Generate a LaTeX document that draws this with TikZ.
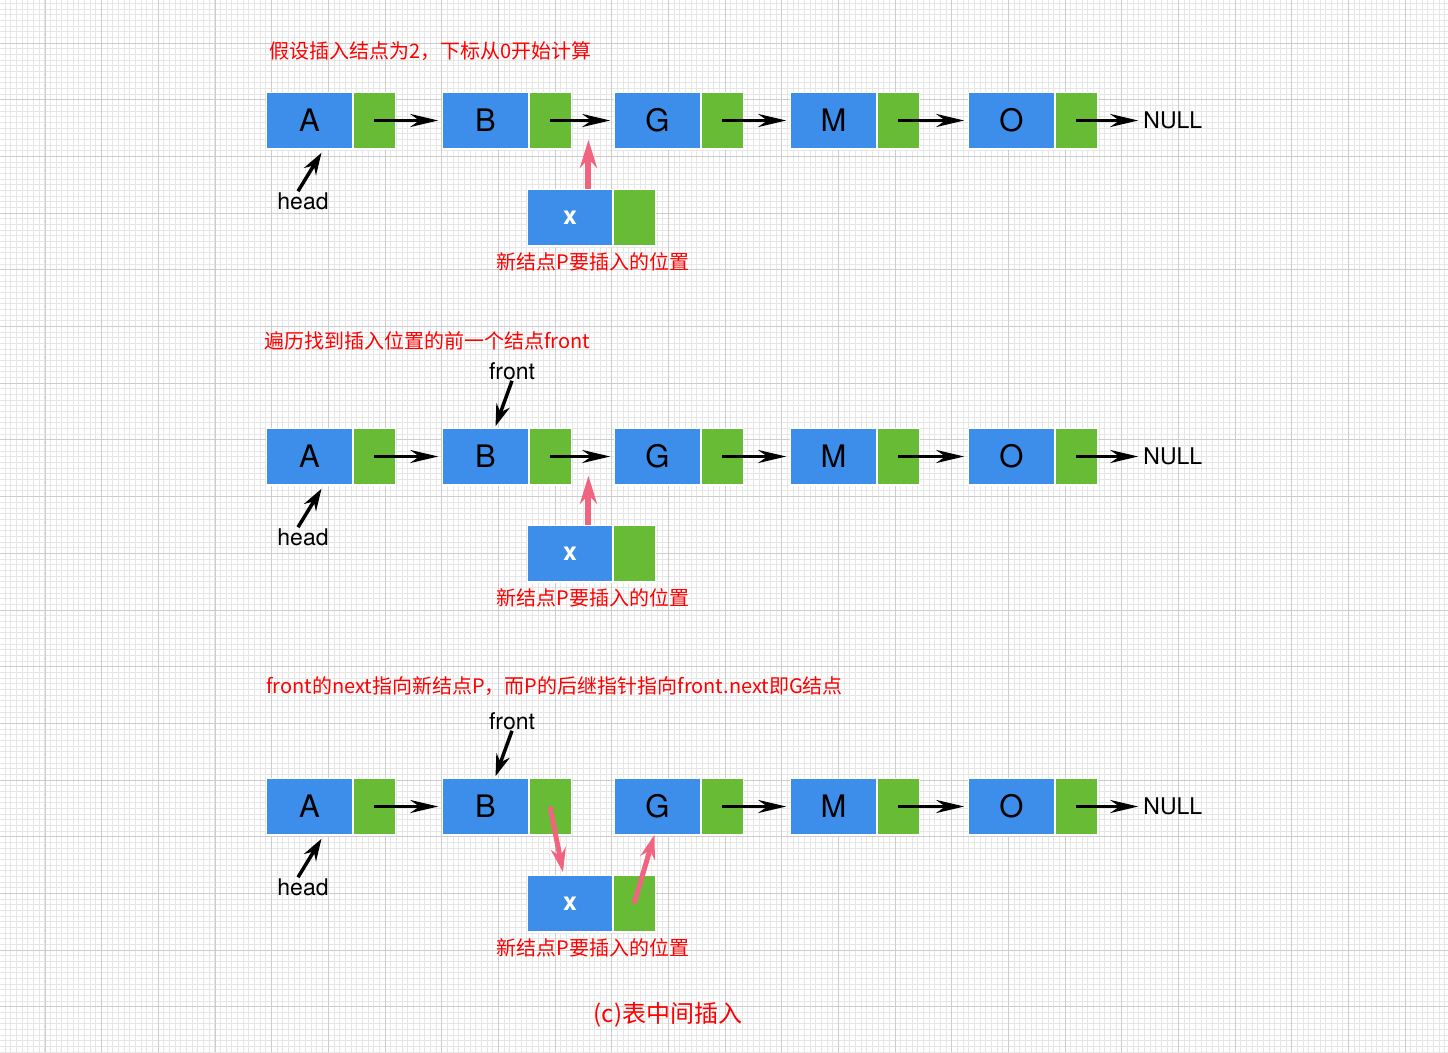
\documentclass[tikz,border=0pt]{standalone}
\usepackage{fontspec}
\setmainfont{TeX Gyre Heros}
\newfontfamily\cjk{Noto Sans CJK SC}
\usetikzlibrary{positioning}
\usetikzlibrary{arrows.meta}
\usetikzlibrary{calc}
\definecolor{cellblue}{HTML}{3C8EEA}
\definecolor{cellgreen}{HTML}{68BB34}
\definecolor{linkpink}{HTML}{F0647F}
\definecolor{gridminor}{HTML}{E6E6E6}
\definecolor{gridmajor}{HTML}{CCCCCC}
\tikzset{datacell/.style={fill=cellblue, draw=white, line width=1.5pt, outer sep=0pt, inner sep=0pt, minimum width=86.5pt, minimum height=56.5pt, font=\fontsize{31}{31}\selectfont}}
\tikzset{ptrcell/.style={datacell, fill=cellgreen, minimum width=42.5pt}}
\tikzset{newcell/.style={datacell, minimum width=85.5pt, text=white, font=\fontsize{25}{25}\selectfont\bfseries}}
\tikzset{nextarrow/.style={-{Stealth[length=28pt,width=13pt]}, line width=3.5pt, shorten >=4pt}}
\tikzset{refarrow/.style={-{Stealth[length=22pt,width=14pt]}, line width=3.5pt}}
\tikzset{insarrow/.style={-{Stealth[length=28pt,width=17pt]}, line width=6pt, draw=linkpink}}
\tikzset{relink/.style={-{Stealth[length=24pt,width=15pt]}, line width=5pt, draw=linkpink}}
\tikzset{note/.style={text=red, font=\cjk\fontsize{20}{20}\selectfont, inner sep=0pt}}
\tikzset{tag/.style={font=\fontsize{23}{23}\selectfont, inner sep=1pt}}

\begin{document}
\begin{tikzpicture}[x=1pt, y=-1pt]
        \useasboundingbox (0,0) rectangle (1448,1052);
        \fill[white] (0,0) rectangle (1448,1052);
        \foreach \i in {0,...,254} \draw[gridminor, line width=1pt] (5.31+5.667*\i,0) -- (5.31+5.667*\i,1052);
        \foreach \j in {0,...,185} \draw[gridminor, line width=1pt] (0,3.63+5.667*\j) -- (1448,3.63+5.667*\j);
        \foreach \i in {0,...,24} \draw[gridmajor, line width=1pt] (45+56.67*\i,0) -- (45+56.67*\i,1052);
        \foreach \j in {0,...,17} \draw[gridmajor, line width=1pt] (0,43.3+56.67*\j) -- (1448,43.3+56.67*\j);

        \node[note, anchor=west] (step1) at (269,51) {假设插入结点为2，下标从0开始计算};
        \node[note, anchor=west] (step2) at (264,341) {遍历找到插入位置的前一个结点front};
        \node[note, anchor=west] (step3) at (266,686) {front的next指向新结点P，而P的后继指针指向front.next即G结点};

        \foreach \r/\y in {1/120.5, 2/456.5, 3/806.5} {
            \foreach \n/\x in {A/309.5, B/485.5, G/657.5, M/833.5, O/1011.5} {
                \node[datacell] (\n\r) at (\x,\y) {\n};
                \node[ptrcell, right=0pt of \n\r] (\n p\r) {};
            }
            \node[tag, right=45pt of Op\r] (null\r) {NULL};
            \node[tag] (head\r) at (303,\y+80.5) {head};
            \node[newcell] (x\r) at (570,\y+97) {\raisebox{-2pt}{x}};
            \node[ptrcell, right=0pt of x\r] (xp\r) {};
            \node[note] (pos\r) at (593,\y+141.5) {新结点P要插入的位置};

            \draw[nextarrow] (Ap\r.center) -- (B\r.west);
            \draw[nextarrow] (Gp\r.center) -- (M\r.west);
            \draw[nextarrow] (Mp\r.center) -- (O\r.west);
            \draw[nextarrow] (Op\r.center) -- (null\r.west);
            \draw[refarrow] ([xshift=-5pt]head\r.north) -- ([xshift=12pt, yshift=-4pt]A\r.south);
        }

        \draw[nextarrow] (Bp1.center) -- (G1.west);
        \draw[nextarrow] (Bp2.center) -- (G2.west);

        \coordinate (gap1) at ($(Bp1.south east)!0.4!(G1.south west)$);
        \coordinate (gap2) at ($(Bp2.south east)!0.4!(G2.south west)$);
        \draw[insarrow] (gap1 |- x1.north) -- ([yshift=9pt]gap1);
        \draw[insarrow] (gap2 |- x2.north) -- ([yshift=9pt]gap2);

        \node[tag] (front2) at (512,371) {front};
        \node[tag] (front3) at (512,721) {front};
        \draw[refarrow] (front2.south) -- ([xshift=10pt, yshift=2pt]B2.north);
        \draw[refarrow] (front3.south) -- ([xshift=10pt, yshift=2pt]B3.north);

        \draw[relink] (Bp3.center) -- ([xshift=-7pt, yshift=3pt]x3.north);
        \draw[relink] (xp3.center) -- ([xshift=-3pt]G3.south);

        \node[note, font=\cjk\fontsize{24}{24}\selectfont] (caption) at (668,1015) {(c)表中间插入};
    \end{tikzpicture}
\end{document}
